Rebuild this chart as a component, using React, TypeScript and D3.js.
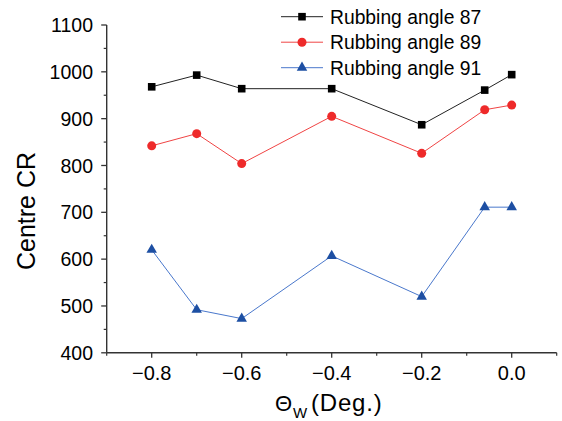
import React from "react";
import * as d3 from "d3";

const xValues = [-0.8, -0.7, -0.6, -0.4, -0.2, -0.06, 0.0];
const angle87 = [968, 993, 964, 964, 887, 961, 994];
const angle89 = [842, 868, 804, 905, 826, 919, 929];
const angle91 = [620, 492, 473, 607, 520, 711, 711];
const seriesNames = ["Rubbing angle 87", "Rubbing angle 89", "Rubbing angle 91"];
const yTickValues = [400, 500, 600, 700, 800, 900, 1000, 1100];
const xTickValues = [-0.8, -0.6, -0.4, -0.2, 0.0];

const W = 562, H = 421;
const FONT = "'Liberation Sans', Arial, Helvetica, sans-serif";

export default function App() {
  const x = d3.scaleLinear().domain([-0.9, 0.1]).range([106.7, 556.7]);
  const y = d3.scaleLinear().domain([400, 1100]).range([352.8, 25]);

  const series = [
    { name: seriesNames[0], values: angle87, line: "#222", fill: "#000", marker: "square" },
    { name: seriesNames[1], values: angle89, line: "#f04444", fill: "#ee2a2a", marker: "circle" },
    { name: seriesNames[2], values: angle91, line: "#4a78cc", fill: "#1d4fa3", marker: "triangle" },
  ];

  const lineGen = d3.line<[number, number]>().x(d => x(d[0])).y(d => y(d[1]));
  const triPath = d3.symbol().type(d3.symbolTriangle).size(48)() as string;

  const marker = (kind: string, cx: number, cy: number, fill: string, key: any) => {
    if (kind === "square") return <rect key={key} x={cx - 3.8} y={cy - 3.8} width={7.6} height={7.6} fill={fill} />;
    if (kind === "circle") return <circle key={key} cx={cx} cy={cy} r={4.5} fill={fill} />;
    return <path key={key} d={triPath} transform={`translate(${cx},${cy})`} fill={fill} />;
  };

  const yMinor = d3.range(450, 1100, 100);
  const xMinor = d3.range(-9, 2, 2).map(v => v / 10);
  const x0 = x(-0.9);
  const yb = y(400);

  const fmt = (v: number) => (v < 0 ? "\u2212" : "") + Math.abs(v).toFixed(1);

  return (
    <svg width={W} height={H} style={{ position: "absolute", left: 0, top: 0, background: "#fff" }} fontFamily={FONT}>
      {/* axes */}
      <line x1={x0} x2={x0} y1={yb} y2={y(1100)} stroke="#333" strokeWidth={1.4} />
      <line x1={x0} x2={x(0.1)} y1={yb} y2={yb} stroke="#333" strokeWidth={1.4} />
      {yTickValues.map(v => (
        <g key={"yt" + v}>
          <line x1={x0 - 5.5} x2={x0} y1={y(v)} y2={y(v)} stroke="#333" strokeWidth={1.3} />
          <text x={93} y={y(v)} dy="0.36em" textAnchor="end" fontSize={19.5} fill="#000">{v}</text>
        </g>
      ))}
      {yMinor.map(v => (
        <line key={"ym" + v} x1={x0 - 3} x2={x0} y1={y(v)} y2={y(v)} stroke="#333" strokeWidth={1.2} />
      ))}
      {xTickValues.map(v => (
        <g key={"xt" + v}>
          <line x1={x(v)} x2={x(v)} y1={yb} y2={yb + 5} stroke="#333" strokeWidth={1.3} />
          <text x={x(v)} y={379.5} textAnchor="middle" fontSize={20} fill="#000">{fmt(v)}</text>
        </g>
      ))}
      {xMinor.map(v => (
        <line key={"xm" + v} x1={x(v)} x2={x(v)} y1={yb} y2={yb + 3} stroke="#333" strokeWidth={1.2} />
      ))}

      {/* axis titles */}
      <text transform={`translate(35,211) rotate(-90)`} textAnchor="middle" fontSize={25} fill="#000">Centre CR</text>
      <text x={275} y={411} fontSize={22} fill="#000">Θ</text>
      <text x={293} y={418} fontSize={15} fill="#000">W</text>
      <text x={311} y={411} fontSize={24} letterSpacing={0.8} fill="#000">(Deg.)</text>

      {/* series */}
      {series.map((s, i) => {
        const pts = xValues.map((xv, j) => [xv, s.values[j]] as [number, number]);
        return (
          <g key={"s" + i}>
            <path d={lineGen(pts) as string} fill="none" stroke={s.line} strokeWidth={1} />
            {pts.map((p, j) => marker(s.marker, x(p[0]), y(p[1]), s.fill, j))}
          </g>
        );
      })}

      {/* legend */}
      {series.map((s, i) => {
        const cy = 16.7 + i * 25.5;
        return (
          <g key={"lg" + i}>
            <line x1={281} x2={323} y1={cy} y2={cy} stroke={s.line} strokeWidth={1} />
            {marker(s.marker, 302, cy, s.fill, "m")}
            <text x={330} y={cy} dy="0.36em" fontSize={19.3} fill="#000">{s.name}</text>
          </g>
        );
      })}
    </svg>
  );
}
